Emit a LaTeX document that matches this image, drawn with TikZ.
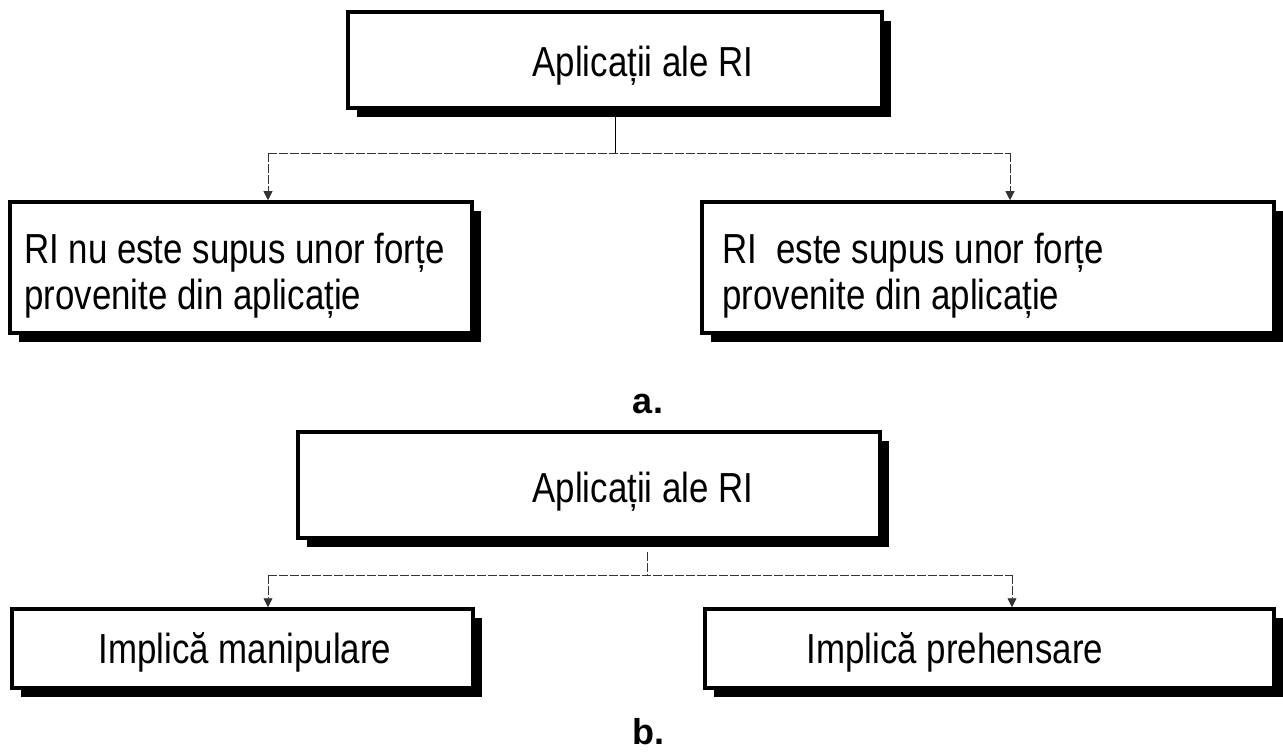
\documentclass[tikz,border=0pt]{standalone}
\usepackage{fontspec}
\setmainfont{Liberation Sans}[FakeStretch=0.83]
\newfontfamily\capfont{Liberation Sans}
\usetikzlibrary{shadows,arrows.meta}

\begin{document}
\begin{tikzpicture}[x=1pt,y=-1pt,
  box/.style={draw=black, line width=3.5pt, fill=white, inner sep=0pt,
    drop shadow={shadow xshift=9pt, shadow yshift=-9pt, opacity=1, fill=black}},
  txt/.style={font=\fontsize{42}{46}\selectfont, inner sep=0pt},
  conn/.style={line width=0.9pt, draw=black!80, dash pattern=on 9pt off 2pt},
  tip/.style={-{Triangle[width=9pt,length=9pt]}},
  caption/.style={font=\capfont\fontsize{36}{40}\selectfont\bfseries}
]
\useasboundingbox (0,0) rectangle (1283,754);

% ---- a. ----
\node[box, minimum width=534pt, minimum height=96pt] (atop) at (615,60) {};
\node[txt, anchor=base] (atoptxt) at (643,77) {Aplicații ale RI};

\node[box, minimum width=462pt, minimum height=131pt] (aleft) at (241,267.5) {};
\node[txt, align=left, anchor=west] (alefttxt)
  at (24,276) {RI nu este supus unor forțe\\provenite din aplicație};

\node[box, minimum width=572pt, minimum height=131pt] (aright) at (988,267.5) {};
\node[txt, align=left, anchor=west] (arighttxt)
  at (722,276) {RI\ \ este supus unor forțe\\provenite din aplicație};

\coordinate (aj) at (atop.south |- 0,153);
\coordinate (al) at (268,153);
\coordinate (ar) at (1010,153);
\draw[line width=0.9pt] (atop.south) -- (aj);
\draw[conn] (al) -- (ar);
\draw[conn, tip] (al) -- (al |- aleft.north);
\draw[conn, tip] (ar) -- (ar |- aright.north);

\node[caption] (capa) at (648,404) {a.};

% ---- b. ----
\node[box, minimum width=582pt, minimum height=106pt] (btop) at (589,485) {};
\node[txt, anchor=base] (btoptxt) at (643,502) {Aplicații ale RI};

\node[box, minimum width=461pt, minimum height=79pt] (bleft) at (242.5,648.5) {};
\node[txt] (blefttxt) at (245,652) {Implică manipulare};

\node[box, minimum width=569pt, minimum height=79pt] (bright) at (989.5,648.5) {};
\node[txt] (brighttxt) at (955,652) {Implică prehensare};

\coordinate (bj) at (647,575);
\coordinate (bl) at (268,575);
\coordinate (br) at (1012,575);
\draw[conn] (bj |- btop.south) ++(0,12) -- (bj);
\draw[conn] (bl) -- (br);
\draw[conn, tip] (bl) -- (bl |- bleft.north);
\draw[conn, tip] (br) -- (br |- bright.north);

\node[caption] (capb) at (648,732) {b.};
\end{tikzpicture}
\end{document}
